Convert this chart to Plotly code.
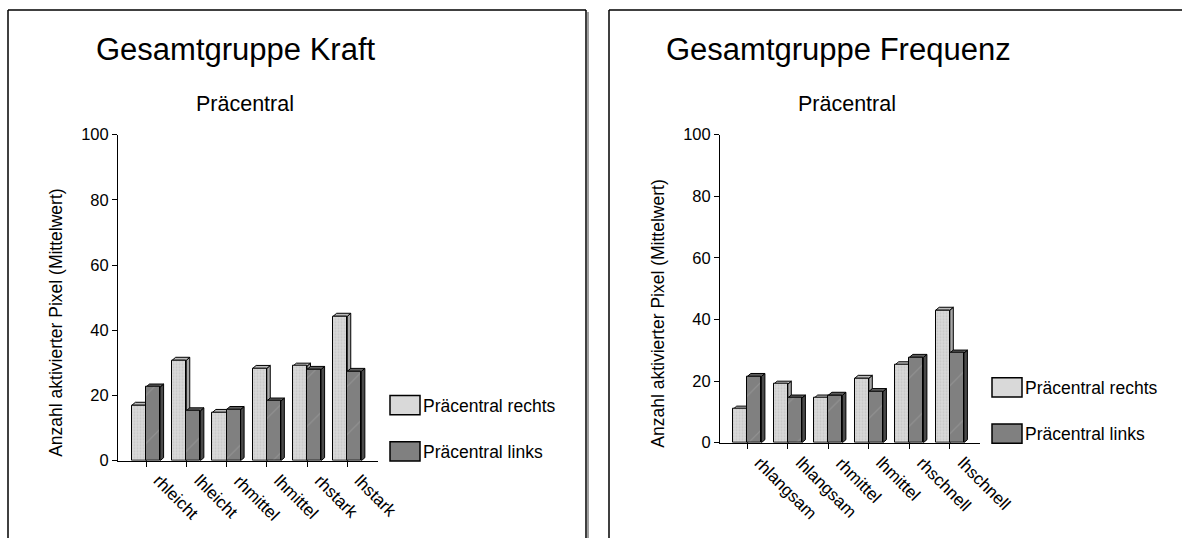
import plotly.graph_objects as go

# ---- data -------------------------------------------------------------
kraft_categories = ["rhleicht", "lhleicht", "rhmittel", "lhmittel", "rhstark", "lhstark"]
kraft_rechts = [17.0, 30.8, 14.8, 28.3, 29.0, 44.3]
kraft_links = [22.6, 15.3, 15.7, 18.3, 28.0, 27.4]

freq_categories = ["rhlangsam", "lhlangsam", "rhmittel", "lhmittel", "rhschnell", "lhschnell"]
freq_rechts = [10.9, 19.0, 14.5, 20.9, 25.3, 43.0]
freq_links = [21.5, 14.5, 15.4, 16.6, 27.7, 29.1]

y_ticks = [0, 20, 40, 60, 80, 100]
series_names = ["Präcentral rechts", "Präcentral links"]
panel_titles = ["Gesamtgruppe Kraft", "Gesamtgruppe Frequenz"]
subtitle = "Präcentral"
y_title = "Anzahl aktivierter Pixel (Mittelwert)"

# ---- page geometry (pixels) ------------------------------------------
W, H = 1182, 538
FONT = "Liberation Sans, Arial, sans-serif"

LIGHT_FRONT, LIGHT_TOP, LIGHT_SIDE = "#d9d9d9", "#bcbcbc", "#a6a6a6"
DARK_FRONT, DARK_TOP, DARK_SIDE = "#808080", "#5f5f5f", "#4a4a4a"

BAR_PX = 14.1      # front face width of one bar
DEPTH_X_PX = 3.5   # oblique depth offset
DEPTH_Y_PX = 3.0

panels = [
    dict(cats=kraft_categories, rechts=kraft_rechts, links=kraft_links,
         x_left=118, x_right=378, y_zero=460.7, y_top=134.7,
         tick0=146.0, step=40.25, shift=0,
         legend_y=(395.5, 441.8), ytitle_y=322.8),
    dict(cats=freq_categories, rechts=freq_rechts, links=freq_links,
         x_left=720, x_right=980, y_zero=442.7, y_top=134.7,
         tick0=747.3, step=40.5, shift=602,
         legend_y=(377.7, 424.0), ytitle_y=313.7),
]


def px(x):
    return x / W


def py(y):
    return 1 - y / H


fig = go.Figure()
shapes = []
annotations = []
axis_layout = {}

for k, p in enumerate(panels):
    xa = "x" if k == 0 else "x2"
    ya = "y" if k == 0 else "y2"
    xkey = "xaxis" if k == 0 else "xaxis2"
    ykey = "yaxis" if k == 0 else "yaxis2"

    n = len(p["cats"])
    pos = list(range(n))
    w = BAR_PX / p["step"]
    dx = DEPTH_X_PX / p["step"]
    dy = DEPTH_Y_PX * 100 / (p["y_zero"] - p["y_top"])
    x_range = [(p["x_left"] - p["tick0"]) / p["step"], (p["x_right"] - p["tick0"]) / p["step"]]

    # front faces
    fig.add_trace(go.Bar(
        x=[i - w / 2 for i in pos], y=p["rechts"], width=w, name=series_names[0],
        xaxis=xa, yaxis=ya, showlegend=False, hoverinfo="skip",
        marker=dict(color=LIGHT_FRONT, line=dict(color="black", width=1),
                    pattern=dict(shape=".", fgcolor="#b5b5b5", size=3, solidity=0.35)),
    ))
    fig.add_trace(go.Bar(
        x=[i + w / 2 for i in pos], y=p["links"], width=w, name=series_names[1],
        xaxis=xa, yaxis=ya, showlegend=False, hoverinfo="skip",
        marker=dict(color=DARK_FRONT, line=dict(color="black", width=1),
                    pattern=dict(shape="/", fgcolor="#a8a8a8", size=34, solidity=0.03)),
    ))

    # top and side faces of each column
    for i in pos:
        for left, val, top_c, side_c in (
            (i - w, p["rechts"][i], LIGHT_TOP, LIGHT_SIDE),
            (i, p["links"][i], DARK_TOP, DARK_SIDE),
        ):
            right = left + w
            top_path = (f"M{left},{val} L{left + dx},{val + dy} "
                        f"L{right + dx},{val + dy} L{right},{val} Z")
            side_path = (f"M{right},0 L{right + dx},{dy} "
                         f"L{right + dx},{val + dy} L{right},{val} Z")
            for path, col in ((side_path, side_c), (top_path, top_c)):
                shapes.append(dict(type="path", path=path, xref=xa, yref=ya,
                                   fillcolor=col, line=dict(color="black", width=1),
                                   layer="below"))

    axis_layout[xkey] = dict(
        domain=[px(p["x_left"]), px(p["x_right"])], range=x_range, anchor=ya,
        tickmode="array", tickvals=pos, showticklabels=False,
        ticks="outside", ticklen=5, tickcolor="black", showline=True,
        linecolor="black", linewidth=1, showgrid=False, zeroline=False,
        fixedrange=True,
    )
    axis_layout[ykey] = dict(
        domain=[py(p["y_zero"]), py(p["y_top"])], range=[0, 100], anchor=xa,
        tickmode="array", tickvals=y_ticks, ticks="outside", ticklen=5,
        tickcolor="black", showline=True, linecolor="black", linewidth=1,
        showgrid=False, zeroline=False,
        tickfont=dict(family=FONT, size=16.5, color="black"), fixedrange=True,
    )

    # slanted category labels hanging below each tick
    for i, cat in zip(pos, p["cats"]):
        annotations.append(dict(text=cat, x=i, xref=xa, y=py(p["y_zero"] + 8),
                                yref="paper", showarrow=False, textangle=45,
                                xanchor="left", yanchor="top", xshift=1,
                                font=dict(family=FONT, size=17, color="black")))

    s = p["shift"]
    # titles
    annotations.append(dict(text=panel_titles[k], x=px(236 + s), y=py(50),
                            xref="paper", yref="paper", showarrow=False,
                            xanchor="center", yanchor="middle",
                            font=dict(family=FONT, size=31, color="black")))
    annotations.append(dict(text=subtitle, x=px(245 + s), y=py(104),
                            xref="paper", yref="paper", showarrow=False,
                            xanchor="center", yanchor="middle",
                            font=dict(family=FONT, size=21.5, color="black")))
    annotations.append(dict(text=y_title, x=px(56 + s), y=py(p["ytitle_y"]),
                            xref="paper", yref="paper", showarrow=False,
                            textangle=-90, xanchor="center", yanchor="middle",
                            font=dict(family=FONT, size=17.5, color="black")))

    # legend swatches and labels
    sw_x0 = p["x_left"] + 272
    for name, top, col in zip(series_names, p["legend_y"], (LIGHT_FRONT, DARK_FRONT)):
        shapes.append(dict(type="rect", xref="paper", yref="paper",
                           x0=px(sw_x0), x1=px(sw_x0 + 30), y0=py(top + 19.3), y1=py(top),
                           fillcolor=col, line=dict(color="black", width=1.5)))
        annotations.append(dict(text=name, x=px(sw_x0 + 31), y=py(top + 10),
                                xref="paper", yref="paper", showarrow=False,
                                xanchor="left", yanchor="middle",
                                font=dict(family=FONT, size=17.5, color="black")))

# panel frames (both panels continue past the bottom edge, the right one past the right edge)
frame = dict(type="line", xref="paper", yref="paper")
shapes += [
    dict(frame, x0=px(588), x1=px(588), y0=py(12), y1=0, line=dict(color="#a0a0a0", width=2)),
    dict(frame, x0=px(8), x1=px(8), y0=py(10), y1=0, line=dict(color="black", width=1.5)),
    dict(frame, x0=px(8), x1=px(586), y0=py(10), y1=py(10), line=dict(color="black", width=1.5)),
    dict(frame, x0=px(586), x1=px(586), y0=py(10), y1=0, line=dict(color="black", width=1.5)),
    dict(frame, x0=px(609), x1=px(609), y0=py(10), y1=0, line=dict(color="black", width=1.5)),
    dict(frame, x0=px(609), x1=1, y0=py(10), y1=py(10), line=dict(color="black", width=1.5)),
]

fig.update_layout(
    width=W, height=H, autosize=False,
    margin=dict(l=0, r=0, t=0, b=0, pad=0, autoexpand=False),
    paper_bgcolor="white", plot_bgcolor="white",
    barmode="overlay", bargap=0,
    showlegend=False,
    shapes=shapes, annotations=annotations,
    font=dict(family=FONT, color="black"),
    **axis_layout,
)

fig.write_html("out.html", config={"displayModeBar": False})
